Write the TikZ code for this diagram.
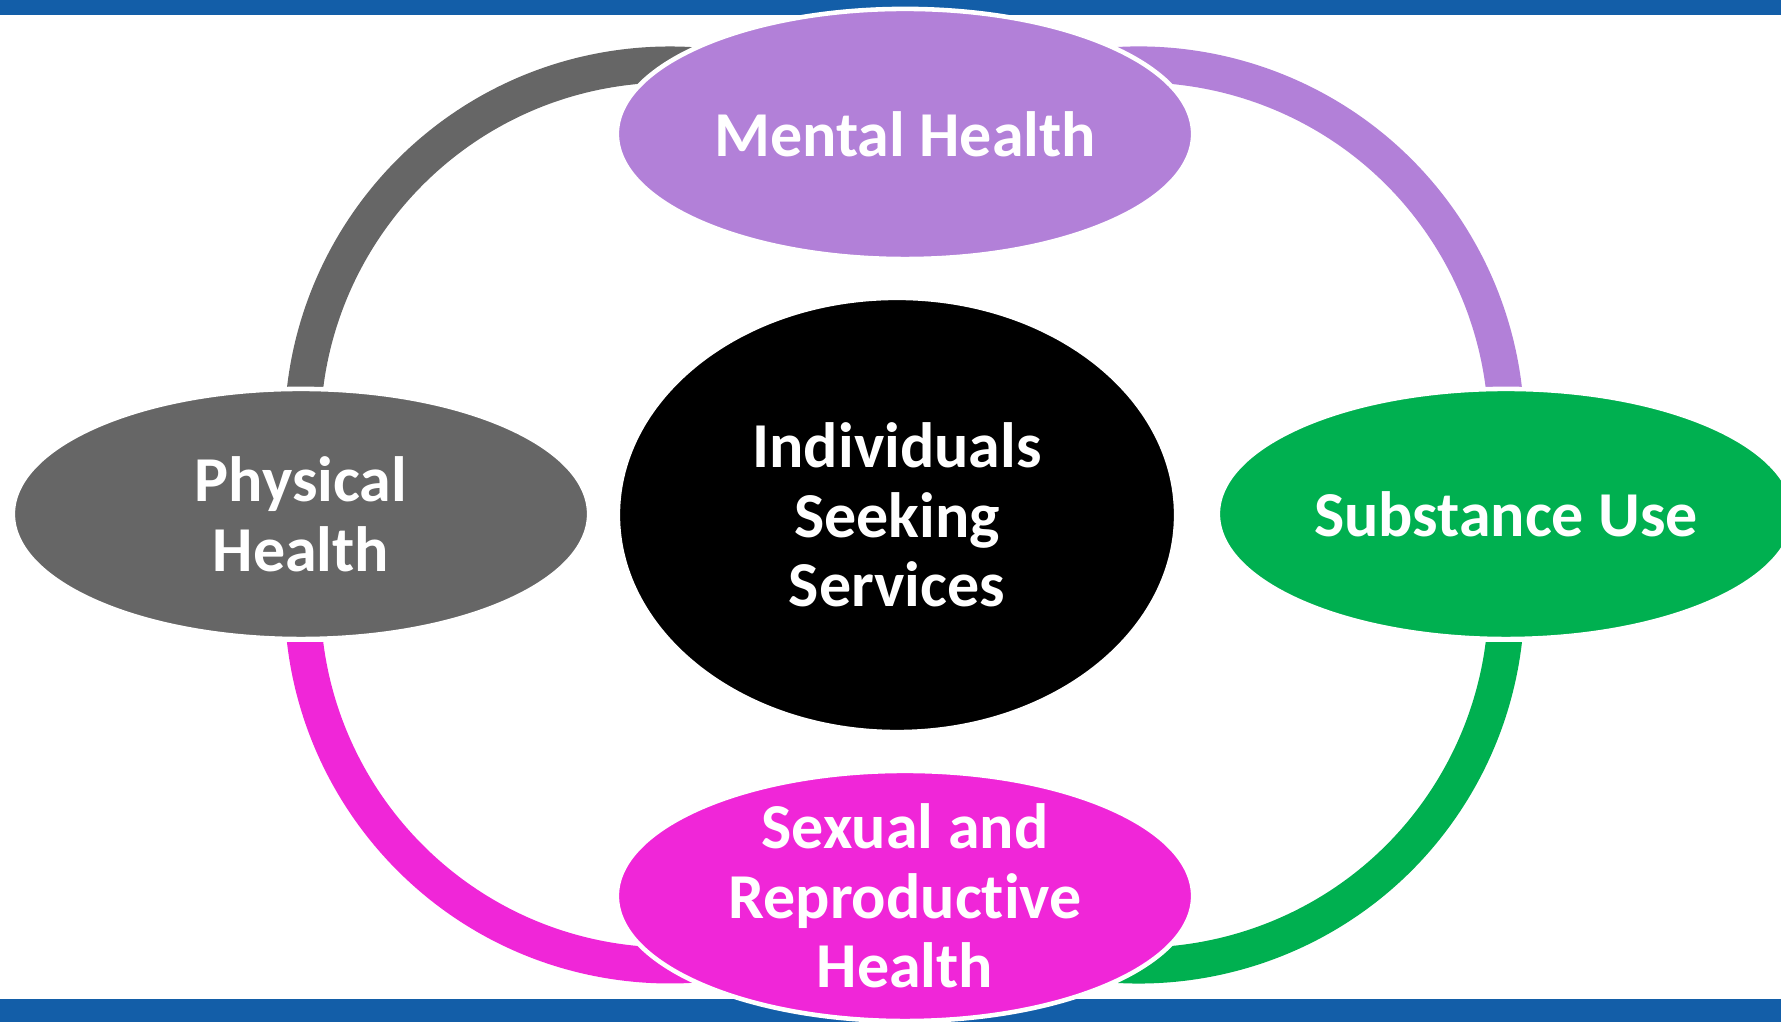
\documentclass[tikz,border=0pt]{standalone}
\usepackage{fontspec}
\setmainfont{Carlito}[Ligatures=NoCommon]
\usetikzlibrary{shapes.geometric}
\definecolor{barblue}{RGB}{19,94,168}
\definecolor{mentalc}{RGB}{178,128,216}
\definecolor{physc}{RGB}{102,102,102}
\definecolor{substc}{RGB}{0,176,80}
\definecolor{sexc}{RGB}{240,38,216}
\tikzstyle{blob}=[ellipse,draw=white,line width=1.3pt,text=white,align=center,inner sep=-8pt,minimum width=5.76cm,minimum height=2.5cm,font=\bfseries\fontsize{18.2}{19.8}\selectfont]
\tikzstyle{band}=[line width=0.36cm]

\begin{document}
\begin{tikzpicture}[x=0.01cm,y=0.01cm]
\useasboundingbox (0,0) rectangle (1781,1022);
\fill[barblue] (0,1007) rectangle (1781,1022);
\fill[barblue] (0,0) rectangle (1781,23);
\coordinate (GrayC) at (670,590);
\coordinate (PurpleC) at (1139,590);
\coordinate (PinkC) at (670,424);
\coordinate (GreenC) at (1139,424);
\begin{scope}
\clip (0,635) rectangle (1781,1022);
\draw[band, physc] (GrayC) ++(185:367.5) arc[start angle=185, end angle=60, radius=367.5];
\draw[band, mentalc] (PurpleC) ++(120:367.5) arc[start angle=120, end angle=-5, radius=367.5];
\end{scope}
\begin{scope}
\clip (0,0) rectangle (1781,379);
\draw[band, sexc] (PinkC) ++(175:367.5) arc[start angle=175, end angle=300, radius=367.5];
\draw[band, substc] (GreenC) ++(240:367.5) arc[start angle=240, end angle=365, radius=367.5];
\end{scope}
\node[blob, fill=black, minimum width=5.58cm, minimum height=4.34cm] at (897,507) (Center) {Individuals\\Seeking\\Services};
\node[blob, fill=mentalc] at (905,888) (Mental) {Mental Health};
\node[blob, fill=physc] at (301,508) (Physical) {Physical\\Health};
\node[blob, fill=substc] at (1506,508) (Substance) {Substance Use};
\node[blob, fill=sexc] at (905,126) (Sexual) {Sexual and\\Reproductive\\Health};
\end{tikzpicture}
\end{document}
